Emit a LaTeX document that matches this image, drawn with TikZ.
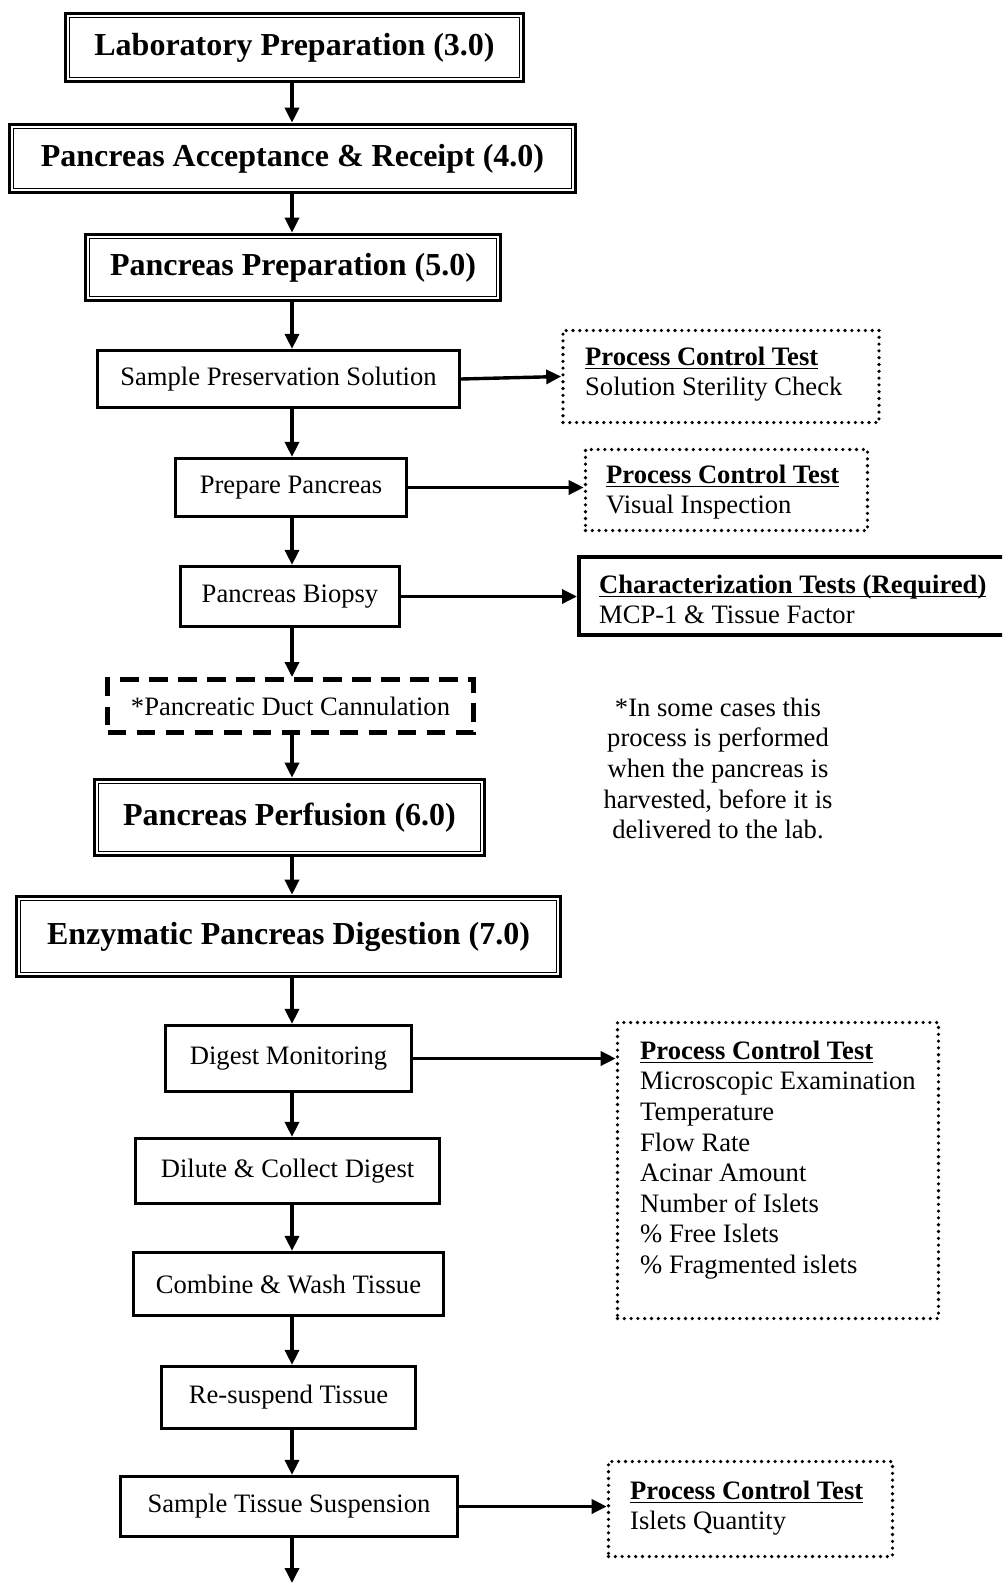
\documentclass[tikz,border=0pt]{standalone}
\usepackage{fontspec}
\setmainfont{Liberation Serif}
\usetikzlibrary{arrows.meta}
\newcommand\myul[1]{\setbox0\hbox{#1}\rlap{\rule[-4pt]{\wd0}{1.6pt}}\box0}
\newcommand\tstrut{\rule{0pt}{24pt}}
\begin{document}
\begin{tikzpicture}[x=1pt,y=-1pt,
  body/.style={font=\fontsize{26.6}{30.6}\selectfont},
  head/.style={font=\fontsize{32}{36}\selectfont\bfseries},
  dblbox/.style={draw, line width=3.6pt, inner sep=0pt, head},
  stepbox/.style={draw, line width=3.2pt, inner sep=0pt, body},
  dotbox/.style={draw, line width=3.6pt, dash pattern=on 0pt off 6.8pt, line cap=round, inner sep=0pt},
  dashbox/.style={draw, line width=5pt, dash pattern=on 18.5pt off 10.5pt, inner sep=0pt, body},
  charbox/.style={draw, line width=4pt, inner sep=0pt},
  txt/.style={body, anchor=north west, inner sep=0pt, align=left},
  arr/.style={line width=3.4pt, -{Triangle[length=15pt,width=14pt]}}
]
\useasboundingbox (0,0) rectangle (1002,1583);
\clip (0,0) rectangle (1002,1583);
\coordinate (sp) at (292,0);
\coordinate (endpt) at (292,1583);

% main spine
\node[dblbox, minimum width=458, minimum height=68] (lab) at (294.5,47.5) {Laboratory Preparation (3.0)};
\node[dblbox, minimum width=566, minimum height=68] (acc) at (292.5,158.5) {Pancreas Acceptance \& Receipt (4.0)};
\node[dblbox, minimum width=415, minimum height=66] (prep) at (293,267.5) {Pancreas Preparation (5.0)};
\node[stepbox, minimum width=362, minimum height=57] (sps) at (278.5,379) {Sample Preservation Solution};
\node[stepbox, minimum width=231, minimum height=58] (pp) at (291,487.5) {Prepare Pancreas};
\node[stepbox, minimum width=219, minimum height=60] (bio) at (290,596.5) {Pancreas Biopsy};
\node[dashbox, minimum width=366, minimum height=53] (duct) at (290.5,706) {*Pancreatic Duct Cannulation};
\node[dblbox, minimum width=390, minimum height=76] (perf) at (289.5,817.5) {Pancreas Perfusion (6.0)};
\node[dblbox, minimum width=544, minimum height=80] (enz) at (288.5,936.5) {Enzymatic Pancreas Digestion (7.0)};
\node[stepbox, minimum width=246, minimum height=66] (dm) at (288.5,1058.5) {Digest Monitoring};
\node[stepbox, minimum width=304, minimum height=65] (dc) at (287.5,1171) {Dilute \& Collect Digest};
\node[stepbox, minimum width=310, minimum height=63] (cw) at (288.5,1284) {Combine \& Wash Tissue};
\node[stepbox, minimum width=254, minimum height=62] (rs) at (288.5,1397.5) {Re-suspend Tissue};
\node[stepbox, minimum width=337, minimum height=60] (sts) at (289,1506.5) {Sample Tissue Suspension};

% inner lines of the double boxes
\foreach \n in {lab,acc,prep,perf,enz}
  \draw[line width=1.8pt] ([shift={(5.8pt,-5.8pt)}]\n.north west) rectangle ([shift={(-5.8pt,5.8pt)}]\n.south east);

% side boxes
\node[dotbox, minimum width=316, minimum height=92] (pct1) at (721,376.5) {};
\node[dotbox, minimum width=282, minimum height=81] (pct2) at (726.5,490) {};
\node[charbox, minimum width=434, minimum height=78] (char) at (796,596) {};
\node[dotbox, minimum width=321, minimum height=296] (pct3) at (778,1170.5) {};
\node[dotbox, minimum width=284, minimum height=95] (pct4) at (750.5,1509) {};

\node[txt] (t1) at (585,365-24) {\tstrut\myul{\textbf{Process Control Test}}\\Solution Sterility Check};
\node[txt] (t2) at (606,483-24) {\tstrut\myul{\textbf{Process Control Test}}\\Visual Inspection};
\node[txt] (tc) at (599,593-24) {\tstrut\myul{\textbf{Characterization Tests (Required)}}\\MCP-1 \& Tissue Factor};
\node[txt] (t3) at (640,1059-24) {\tstrut\myul{\textbf{Process Control Test}}\\Microscopic Examination\\Temperature\\Flow Rate\\Acinar Amount\\Number of Islets\\\% Free Islets\\\% Fragmented islets};
\node[txt] (t4) at (630,1499-24) {\tstrut\myul{\textbf{Process Control Test}}\\Islets Quantity};

\node[body, anchor=north, inner sep=0pt, align=center] (note) at (718,716-24) {\tstrut*In some cases this\\process is performed\\when the pancreas is\\harvested, before it is\\delivered to the lab.};

% vertical connectors
\foreach \a/\b in {lab/acc,acc/prep,prep/sps,sps/pp,pp/bio,bio/duct,duct/perf,perf/enz,enz/dm,dm/dc,dc/cw,cw/rs,rs/sts}
  \draw[arr] (\a.south -| sp) -- (\b.north -| sp);
\draw[arr] (sts.south -| sp) -- (endpt);

% horizontal connectors
\draw[arr] (sps.east) -- (pct1.west);
\draw[arr] (pp.east) -- (pp.east -| pct2.west);
\draw[arr] (bio.east) -- (bio.east -| char.west);
\draw[arr] (dm.east) -- (dm.east -| pct3.west);
\draw[arr] (sts.east) -- (sts.east -| pct4.west);
\end{tikzpicture}
\end{document}
